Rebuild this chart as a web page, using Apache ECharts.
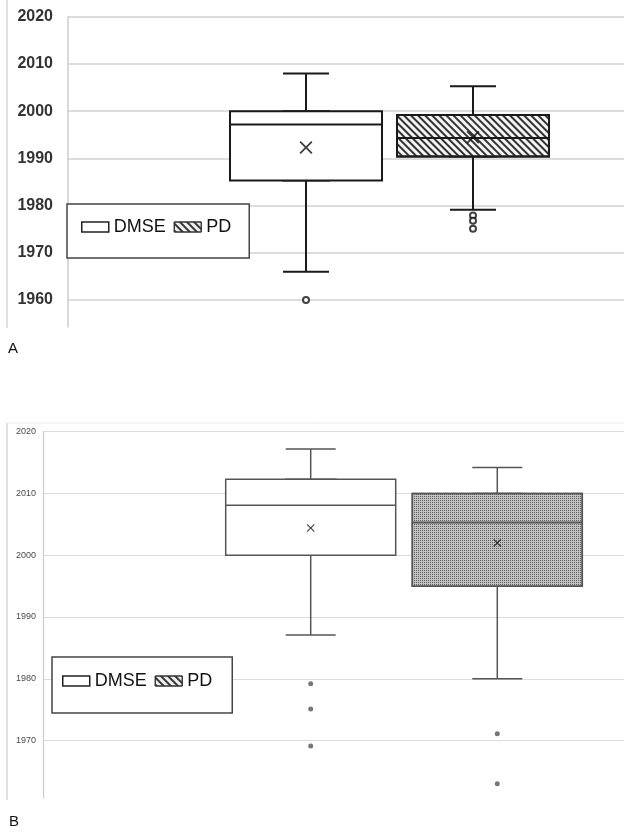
<!DOCTYPE html>
<html lang="en">
<head>
    <meta charset="UTF-8">
    <title>DMSE vs PD boxplots</title>
    <script src="https://cdn.jsdelivr.net/npm/echarts@6/dist/echarts.min.js"></script>
    <style>
        html, body { margin: 0; padding: 0; background: #fff; }
        #chart { width: 624px; height: 836px; }
    </style>
</head>
<body>
    <div id="chart"></div>
    <script>
    // data: [min, Q1, median, Q3, max]
    const groups = ['DMSE', 'PD'];
    const boxA = [[1966, 1985.3, 1997.2, 2000, 2008], [1979.1, 1990.4, 1994.3, 1999.2, 2005.3]];
    const meanA = [1992.3, 1994.5];
    const outliersA = [[1960], [1977.9, 1976.8, 1975.1]];
    const boxB = [[1987.1, 2000, 2008.1, 2012.3, 2017.2], [1980, 1995, 2005.3, 2010, 2014.2]];
    const meanB = [2004.4, 2002];
    const outliersB = [[1979.2, 1975.1, 1969.1], [1971.1, 1963]];

    const hatch = { symbol: 'rect', symbolSize: 1, dashArrayX: [1, 0], dashArrayY: [1.2, 2.2], rotation: Math.PI / 4, color: '#333' };
    const stipple = { symbol: 'rect', symbolSize: 1, dashArrayX: [1, 1], dashArrayY: [1, 1], color: '#5e5e5e' };
    const xShape = 'path://M0,1L1,0L5,4L9,0L10,1L6,5L10,9L9,10L5,6L1,10L0,9L4,5Z';

    const grids = [], xAxes = [], yAxes = [], series = [];

    function addPanel(p) {
        // background grid: gridlines + left axis line
        const bg = grids.length;
        grids.push({ left: p.left, right: 0, top: p.top, bottom: 836 - p.bottom, outerBoundsMode: 'none' });
        xAxes.push({ gridIndex: bg, type: 'value', show: false, min: 0, max: 1 });
        yAxes.push({
            gridIndex: bg, type: 'value', min: p.min, max: 2020,
            axisLine: { show: true, lineStyle: { color: '#cccccc', width: p.gridW } },
            axisTick: { show: false },
            splitLine: { show: true, showMinLine: false, lineStyle: { color: p.gridColor, width: p.gridW } },
            axisLabel: {
                showMinLabel: false, margin: p.labelMargin, fontSize: p.labelSize, color: p.labelColor,
                fontWeight: p.labelWeight, fontFamily: 'Liberation Sans', formatter: v => String(v)
            }
        });

        groups.forEach((g, i) => {
            const gi = grids.length;
            grids.push({ left: p.centers[i] - p.band / 2, width: p.band, top: p.top, bottom: 836 - p.bottom, outerBoundsMode: 'none' });
            // two hidden category axes so the whisker and box series are not laid side by side
            const xw = xAxes.length;
            xAxes.push({ gridIndex: gi, type: 'category', data: [g], show: false });
            const xb = xAxes.length;
            xAxes.push({ gridIndex: gi, type: 'category', data: [g], show: false });
            const yi = yAxes.length;
            yAxes.push({ gridIndex: gi, type: 'value', min: p.min, max: 2020, show: false });
            const b = p.box[i];
            // whiskers (narrow caps), drawn under the box
            series.push({
                name: g + ' whisker', type: 'boxplot', xAxisIndex: xw, yAxisIndex: yi, z: 2,
                boxWidth: [p.capW, p.capW], silent: true,
                itemStyle: { color: '#fff', borderColor: p.line, borderWidth: p.lineW },
                data: [b]
            });
            // box body
            series.push({
                name: g, type: 'boxplot', xAxisIndex: xb, yAxisIndex: yi, z: 3,
                boxWidth: [p.boxW, p.boxW], silent: true,
                itemStyle: Object.assign({ borderColor: p.line, borderWidth: p.lineW }, p.fills[i]),
                data: [[b[1], b[1], b[2], b[3], b[3]]]
            });
            series.push({
                name: g + ' mean', type: 'scatter', xAxisIndex: xb, yAxisIndex: yi, z: 5,
                symbol: xShape, symbolSize: p.meanSize, silent: true,
                itemStyle: { color: '#111' },
                data: [[0, p.mean[i]]]
            });
            series.push({
                name: g + ' outlier', type: 'scatter', xAxisIndex: xb, yAxisIndex: yi, z: 5,
                symbol: 'circle', symbolSize: p.outSize, silent: true,
                itemStyle: p.outStyle,
                data: p.out[i].map(v => [0, v])
            });
        });
    }

    addPanel({
        top: 16.7, bottom: 327, left: 68, min: 1954.3,
        gridColor: '#d2d2d2', gridW: 1.5, labelMargin: 15, labelSize: 16, labelColor: '#333', labelWeight: 'bold',
        centers: [306, 473], band: 167, boxW: 152, capW: 46,
        line: '#1a1a1a', lineW: 2,
        fills: [{ color: '#ffffff' }, { color: '#f4f4f4', decal: hatch }],
        box: boxA, mean: meanA, out: outliersA,
        meanSize: 13, outSize: 6,
        outStyle: { color: '#fff', borderColor: '#111', borderWidth: 2 }
    });
    addPanel({
        top: 431.7, bottom: 798, left: 43, min: 1960.7,
        gridColor: '#dcdcdc', gridW: 1.2, labelMargin: 7, labelSize: 9, labelColor: '#4a4a4a', labelWeight: 'normal',
        centers: [310.7, 497.3], band: 186, boxW: 170, capW: 50,
        line: '#555', lineW: 1.5,
        fills: [{ color: '#ffffff' }, { color: '#c2c2c2', decal: stipple }],
        box: boxB, mean: meanB, out: outliersB,
        meanSize: 8, outSize: 5,
        outStyle: { color: '#555' }
    });

    function legendFor(left, top, pad) {
        return {
            left: left, top: top, orient: 'horizontal', z: 6,
            padding: pad, itemGap: 8, itemWidth: 27, itemHeight: 10,
            backgroundColor: '#fff', borderColor: '#444', borderWidth: 1.5,
            selectedMode: false,
            textStyle: { fontSize: 18, color: '#111', fontFamily: 'Liberation Sans' },
            data: [
                { name: 'DMSE', icon: 'rect', itemStyle: { color: '#fff', borderColor: '#222', borderWidth: 1.5, decal: 'none' } },
                { name: 'PD', icon: 'rect', itemStyle: { color: '#eeeeee', borderColor: '#333', borderWidth: 1, decal: hatch } }
            ]
        };
    }

    const chart = echarts.init(document.getElementById('chart'), null, { renderer: 'canvas' });
    chart.setOption({
        animation: false,
        backgroundColor: '#fff',
        grid: grids,
        xAxis: xAxes,
        yAxis: yAxes,
        legend: [legendFor(67, 204, [14, 18, 22, 14]), legendFor(52, 657, [15, 20, 23, 10])],
        series: series,
        graphic: [
            { type: 'line', shape: { x1: 7, y1: 0, x2: 7, y2: 328 }, style: { stroke: '#d6d6d6', lineWidth: 1.5 } },
            { type: 'line', shape: { x1: 7, y1: 423, x2: 7, y2: 800 }, style: { stroke: '#d6d6d6', lineWidth: 1.5 } },
            { type: 'line', shape: { x1: 7, y1: 423, x2: 624, y2: 423 }, style: { stroke: '#ececec', lineWidth: 1 } },
            { type: 'text', left: 8, top: 341, style: { text: 'A', fontSize: 15, fill: '#111', fontFamily: 'Liberation Sans' } },
            { type: 'text', left: 9, top: 814, style: { text: 'B', fontSize: 15, fill: '#111', fontFamily: 'Liberation Sans' } }
        ]
    });
    </script>
</body>
</html>
